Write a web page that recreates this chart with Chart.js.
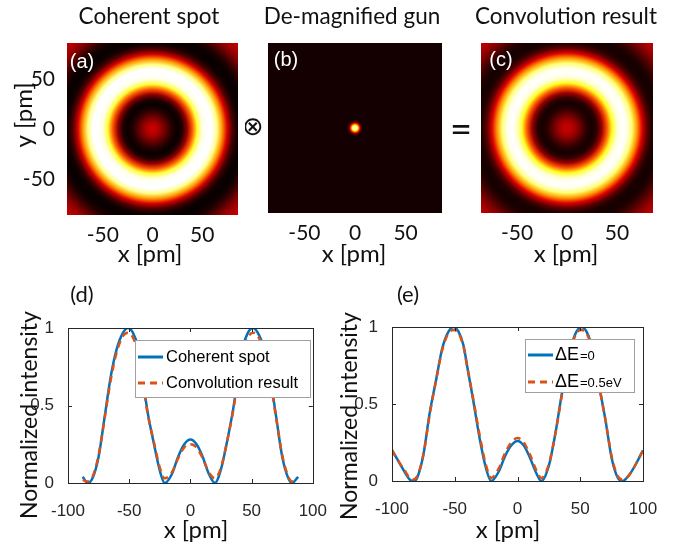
<!DOCTYPE html>
<html>
<head>
<meta charset="utf-8">
<script src="https://cdn.jsdelivr.net/npm/chart.js@4.4.1/dist/chart.umd.min.js"></script>
<style>
  body { margin: 0; background: #fff; }
  #fig { position: relative; width: 674px; height: 545px; overflow: hidden; }
  canvas { position: absolute; }
</style>
</head>
<body>
<div id="fig">
  <canvas id="ca" width="245" height="270" style="left:0;top:0"></canvas>
  <canvas id="cb" width="205" height="270" style="left:245px;top:0"></canvas>
  <canvas id="cc" width="224" height="270" style="left:450px;top:0"></canvas>
  <canvas id="cd" width="337" height="265" style="left:0;top:280px"></canvas>
  <canvas id="ce" width="337" height="265" style="left:337px;top:280px"></canvas>
</div>
<script>
// ---- data ---------------------------------------------------------------
// top row: radial intensity profiles of the 2D maps (r in pm)
var IMG_TICKS = [-50, 0, 50];
var IMG_RANGE = [-86, 86];
var RING_R = [0, 5, 10, 15, 20, 25, 30, 35, 40, 45, 50, 55, 60, 65, 70, 75, 80, 85, 90, 95, 100, 105, 110, 115, 120, 125];
var SPOT_PROFILE = [0.30, 0.27, 0.20, 0.12, 0.05, 0.01, 0.05, 0.22, 0.50, 0.80, 0.97, 1.00, 1.00, 0.88, 0.60, 0.32, 0.12, 0.03, 0.01, 0.02, 0.06, 0.13, 0.20, 0.25, 0.28, 0.30];
var CONV_PROFILE = [0.29, 0.27, 0.21, 0.13, 0.06, 0.03, 0.07, 0.23, 0.50, 0.78, 0.95, 1.00, 0.98, 0.86, 0.60, 0.33, 0.14, 0.05, 0.03, 0.04, 0.08, 0.14, 0.20, 0.25, 0.28, 0.30];
var GUN_R = [0, 1, 2, 3, 4, 5, 6, 7, 8, 9];
var GUN_PROFILE = [1.00, 0.97, 0.88, 0.72, 0.50, 0.30, 0.14, 0.06, 0.03, 0.03];

// bottom row: line profiles
var X_TICKS = [-100, -50, 0, 50, 100];
var Y_TICKS = [0, 0.5, 1];
var D_X = [-88, -84, -80, -75, -70, -65, -60, -55, -51, -47, -43, -40, -35, -30, -25, -21, -15, -10, -5, 0,
           5, 10, 15, 20, 25, 30, 35, 40, 43, 47, 51, 55, 60, 65, 70, 75, 80, 83, 88];
var D_COHERENT = [0.04, 0.00, 0.03, 0.17, 0.43, 0.69, 0.87, 0.97, 1.00, 0.97, 0.88, 0.73, 0.46, 0.26, 0.08, 0.00, 0.06, 0.17, 0.25, 0.28,
                  0.25, 0.17, 0.06, 0.00, 0.09, 0.27, 0.48, 0.75, 0.88, 0.97, 1.00, 0.97, 0.87, 0.69, 0.43, 0.17, 0.03, 0.00, 0.04];
var D_CONV = [0.02, 0.01, 0.04, 0.18, 0.42, 0.67, 0.85, 0.95, 0.97, 0.94, 0.85, 0.71, 0.45, 0.27, 0.10, 0.03, 0.07, 0.16, 0.23, 0.25,
              0.23, 0.16, 0.07, 0.03, 0.10, 0.27, 0.47, 0.73, 0.85, 0.94, 0.97, 0.95, 0.85, 0.67, 0.42, 0.18, 0.04, 0.01, 0.02];
var E_X = [-100, -95, -90, -86, -83, -80, -75, -70, -65, -60, -55, -51, -47, -43, -40, -35, -30, -25, -21, -15, -10, -5, 0,
           5, 10, 15, 19, 25, 30, 35, 40, 43, 47, 51, 55, 60, 65, 70, 75, 80, 84, 87, 90, 95, 100];
var E_DE0 = [0.20, 0.13, 0.06, 0.01, 0.00, 0.02, 0.17, 0.44, 0.65, 0.86, 0.97, 1.00, 0.97, 0.88, 0.74, 0.51, 0.27, 0.08, 0.00, 0.06, 0.16, 0.23, 0.26,
             0.23, 0.15, 0.05, 0.00, 0.10, 0.30, 0.55, 0.77, 0.88, 0.97, 1.00, 0.97, 0.85, 0.62, 0.40, 0.15, 0.02, 0.00, 0.02, 0.05, 0.12, 0.20];
var E_DE05 = [0.20, 0.13, 0.07, 0.02, 0.01, 0.03, 0.17, 0.43, 0.65, 0.85, 0.96, 0.98, 0.96, 0.87, 0.74, 0.52, 0.29, 0.10, 0.02, 0.08, 0.18, 0.25, 0.28,
              0.25, 0.17, 0.07, 0.02, 0.11, 0.30, 0.54, 0.76, 0.87, 0.96, 0.98, 0.96, 0.84, 0.62, 0.40, 0.16, 0.03, 0.01, 0.02, 0.05, 0.12, 0.20];

// ---- styling ---------------------------------------------------------------
var BLUE = "#0072bd", ORANGE = "#d95319", AXIS = "#262626";
var LATO = "Lato, 'Open Sans', sans-serif";
var ARIAL = "'Liberation Sans', Arial, sans-serif";

function hot(v) {
  var r = Math.min(1, v / 0.375),
      g = Math.min(1, Math.max(0, (v - 0.375) / 0.375)),
      b = Math.min(1, Math.max(0, (v - 0.75) / 0.25));
  return "rgb(" + Math.round(r * 255) + "," + Math.round(g * 255) + "," + Math.round(b * 255) + ")";
}

function pts(xs, ys) {
  return xs.map(function (x, i) { return { x: x, y: ys[i] }; });
}

// radial colour map, radii placed through the chart's own x scale
function heatPlugin(radii, values) {
  return {
    id: "heat",
    beforeDatasetsDraw: function (chart) {
      var ctx = chart.ctx, a = chart.chartArea, sx = chart.scales.x, sy = chart.scales.y;
      var cx = sx.getPixelForValue(0), cy = sy.getPixelForValue(0);
      var rMax = radii[radii.length - 1];
      var rPx = Math.abs(sx.getPixelForValue(rMax) - cx);
      var g = ctx.createRadialGradient(cx, cy, 0, cx, cy, rPx);
      radii.forEach(function (r, i) { g.addColorStop(r / rMax, hot(values[i])); });
      ctx.save();
      ctx.fillStyle = g;
      ctx.fillRect(a.left, a.top, a.right - a.left, a.bottom - a.top);
      ctx.restore();
    }
  };
}

// free text (titles, panel letters, axis names) in page coordinates
function textPlugin(ox, oy, items) {
  return {
    id: "texts",
    afterDraw: function (chart) {
      var ctx = chart.ctx;
      items.forEach(function (it) {
        ctx.save();
        ctx.translate(it.x - ox, it.y - oy);
        if (it.rot) ctx.rotate(it.rot);
        ctx.font = it.font;
        ctx.fillStyle = it.color || "#111";
        ctx.textAlign = "center";
        ctx.textBaseline = "middle";
        ctx.fillText(it.t, 0, 0);
        ctx.restore();
      });
    }
  };
}

// MATLAB-like box with inward ticks, plus boxed legend
function framePlugin(ox, oy, leg) {
  return {
    id: "frame",
    afterDraw: function (chart) {
      var ctx = chart.ctx, a = chart.chartArea, sx = chart.scales.x, sy = chart.scales.y;
      ctx.save();
      ctx.strokeStyle = AXIS; ctx.lineWidth = 1;
      ctx.strokeRect(Math.round(a.left) + 0.5, Math.round(a.top) + 0.5, Math.round(a.right - a.left), Math.round(a.bottom - a.top));
      ctx.beginPath();
      sx.ticks.forEach(function (t) {
        var p = Math.round(sx.getPixelForValue(t.value)) + 0.5;
        ctx.moveTo(p, a.bottom); ctx.lineTo(p, a.bottom - 4);
        ctx.moveTo(p, a.top); ctx.lineTo(p, a.top + 4);
      });
      sy.ticks.forEach(function (t) {
        var p = Math.round(sy.getPixelForValue(t.value)) + 0.5;
        ctx.moveTo(a.left, p); ctx.lineTo(a.left + 4, p);
        ctx.moveTo(a.right, p); ctx.lineTo(a.right - 4, p);
      });
      ctx.stroke();

      // legend
      var bx = leg.box[0] - ox, by = leg.box[1] - oy;
      ctx.fillStyle = "#fff";
      ctx.fillRect(bx, by, leg.box[2], leg.box[3]);
      ctx.strokeStyle = "#a0a0a0";
      ctx.strokeRect(bx + 0.5, by + 0.5, leg.box[2], leg.box[3]);
      chart.data.datasets.forEach(function (ds, i) {
        var y = leg.rows[i] - oy;
        ctx.strokeStyle = ds.borderColor;
        ctx.lineWidth = 3;
        ctx.setLineDash(ds.borderDash || []);
        ctx.beginPath();
        ctx.moveTo(leg.line[0] - ox, y); ctx.lineTo(leg.line[1] - ox, y);
        ctx.stroke();
        ctx.setLineDash([]);
        ctx.fillStyle = "#000";
        ctx.textAlign = "left";
        ctx.textBaseline = "middle";
        var label = ds.label, x = leg.textX - ox;
        var head = leg.split ? label.slice(0, leg.split) : label;
        ctx.font = leg.font;
        ctx.fillText(head, x, y);
        if (leg.split) {
          var w = ctx.measureText(head).width;
          ctx.font = leg.smallFont;
          ctx.fillText(label.slice(leg.split), x + w + 1, y + 1);
        }
      });
      ctx.restore();
    }
  };
}

function imageChart(id, o) {
  return new Chart(document.getElementById(id), {
    type: "scatter",
    data: { datasets: [{ data: [] }] },
    options: {
      responsive: false, animation: false, events: [],
      layout: { padding: o.pad },
      plugins: { legend: { display: false }, tooltip: { enabled: false } },
      scales: {
        x: {
          type: "linear", min: IMG_RANGE[0], max: IMG_RANGE[1],
          grid: { display: false }, border: { display: false },
          afterBuildTicks: function (s) { s.ticks = IMG_TICKS.map(function (v) { return { value: v }; }); },
          afterFit: function (s) { s.height = o.xh; },
          ticks: { font: { family: LATO, size: 21 }, color: "#111", padding: 0, maxRotation: 0 }
        },
        y: {
          type: "linear", min: IMG_RANGE[0], max: IMG_RANGE[1], display: !!o.showY,
          grid: { display: false }, border: { display: false },
          afterBuildTicks: function (s) { s.ticks = IMG_TICKS.map(function (v) { return { value: v }; }); },
          afterFit: function (s) { s.width = o.yw || 0; },
          ticks: { font: { family: LATO, size: 21 }, color: "#111", padding: 4 }
        }
      }
    },
    plugins: [heatPlugin(o.radii, o.values), textPlugin(o.ox, 0, o.texts)]
  });
}

function lineChart(id, o) {
  return new Chart(document.getElementById(id), {
    type: "line",
    data: {
      datasets: [
        { label: o.labels[0], data: pts(o.xs, o.a), borderColor: BLUE, borderWidth: 2.5, order: 2 },
        { label: o.labels[1], data: pts(o.xs, o.b), borderColor: ORANGE, borderWidth: 2.5, borderDash: [7, 5], order: 1 }
      ]
    },
    options: {
      responsive: false, animation: false, events: [],
      layout: { padding: o.pad },
      elements: { point: { radius: 0 }, line: { cubicInterpolationMode: "monotone", fill: false } },
      plugins: { legend: { display: false }, tooltip: { enabled: false } },
      scales: {
        x: {
          type: "linear", min: -100, max: 100,
          grid: { display: false }, border: { display: false },
          afterBuildTicks: function (s) { s.ticks = X_TICKS.map(function (v) { return { value: v }; }); },
          afterFit: function (s) { s.height = o.xh; },
          ticks: { font: { family: ARIAL, size: 17 }, color: AXIS, padding: 10, maxRotation: 0 }
        },
        y: {
          type: "linear", min: 0, max: 1,
          grid: { display: false }, border: { display: false },
          afterBuildTicks: function (s) { s.ticks = Y_TICKS.map(function (v) { return { value: v }; }); },
          afterFit: function (s) { s.width = o.yw; },
          ticks: { font: { family: ARIAL, size: 17 }, color: AXIS, padding: 6,
                   callback: function (v) { return String(v); } }
        }
      }
    },
    plugins: [framePlugin(o.ox, 280, o.legend), textPlugin(o.ox, 280, o.texts)]
  });
}

var T22 = "22.5px " + LATO, T24 = "24px " + LATO;

imageChart("ca", {
  ox: 0, pad: { left: 0, right: 7, top: 43, bottom: 0 }, xh: 55, yw: 67, showY: true,
  radii: RING_R, values: SPOT_PROFILE,
  texts: [
    { t: "Coherent spot", x: 149, y: 17, font: T22 },
    { t: "y [pm]", x: 24, y: 115, font: T24, rot: -Math.PI / 2 },
    { t: "x [pm]", x: 150, y: 254, font: T24 },
    { t: "(a)", x: 82, y: 62, font: "20px " + ARIAL, color: "#fff" }
  ]
});
imageChart("cb", {
  ox: 245, pad: { left: 23, right: 8, top: 43, bottom: 0 }, xh: 57,
  radii: GUN_R, values: GUN_PROFILE,
  texts: [
    { t: "De-magnified gun", x: 352, y: 17, font: T22 },
    { t: "x [pm]", x: 354, y: 254, font: T24 },
    { t: "(b)", x: 286, y: 60, font: "20px " + ARIAL, color: "#fff" },
    { t: "\u2297", x: 253, y: 128, font: "26px 'DejaVu Sans'" }
  ]
});
imageChart("cc", {
  ox: 450, pad: { left: 31, right: 21, top: 43, bottom: 0 }, xh: 57,
  radii: RING_R, values: CONV_PROFILE,
  texts: [
    { t: "Convolution result", x: 566, y: 17, font: T22 },
    { t: "x [pm]", x: 566, y: 254, font: T24 },
    { t: "(c)", x: 501, y: 60, font: "20px " + ARIAL, color: "#fff" },
    { t: "=", x: 461, y: 131, font: "38px " + LATO }
  ]
});

lineChart("cd", {
  ox: 0, pad: { left: 0, right: 18, top: 48, bottom: 0 }, xh: 62, yw: 68,
  xs: D_X, a: D_COHERENT, b: D_CONV, labels: ["Coherent spot", "Convolution result"],
  legend: { box: [135, 340, 175, 57], rows: [357, 383], line: [138, 163], textX: 166, font: "16.5px " + ARIAL },
  texts: [
    { t: "(d)", x: 82, y: 295, font: "22px " + LATO },
    { t: "Normalized intensity", x: 30, y: 415, font: "23px " + LATO, rot: -Math.PI / 2 },
    { t: "x [pm]", x: 196, y: 530, font: "24px " + LATO }
  ]
});
lineChart("ce", {
  ox: 337, pad: { left: 0, right: 31, top: 47, bottom: 0 }, xh: 64, yw: 55,
  xs: E_X, a: E_DE0, b: E_DE05, labels: ["\u0394E=0", "\u0394E=0.5eV"],
  legend: { box: [525, 339, 109, 53], rows: [355, 382], line: [528, 553], textX: 555, split: 2,
            font: "18px " + ARIAL, smallFont: "13px " + ARIAL },
  texts: [
    { t: "(e)", x: 408, y: 295, font: "22px " + LATO },
    { t: "Normalized intensity", x: 350, y: 416, font: "23px " + LATO, rot: -Math.PI / 2 },
    { t: "x [pm]", x: 508, y: 530, font: "24px " + LATO }
  ]
});
</script>
</body>
</html>
